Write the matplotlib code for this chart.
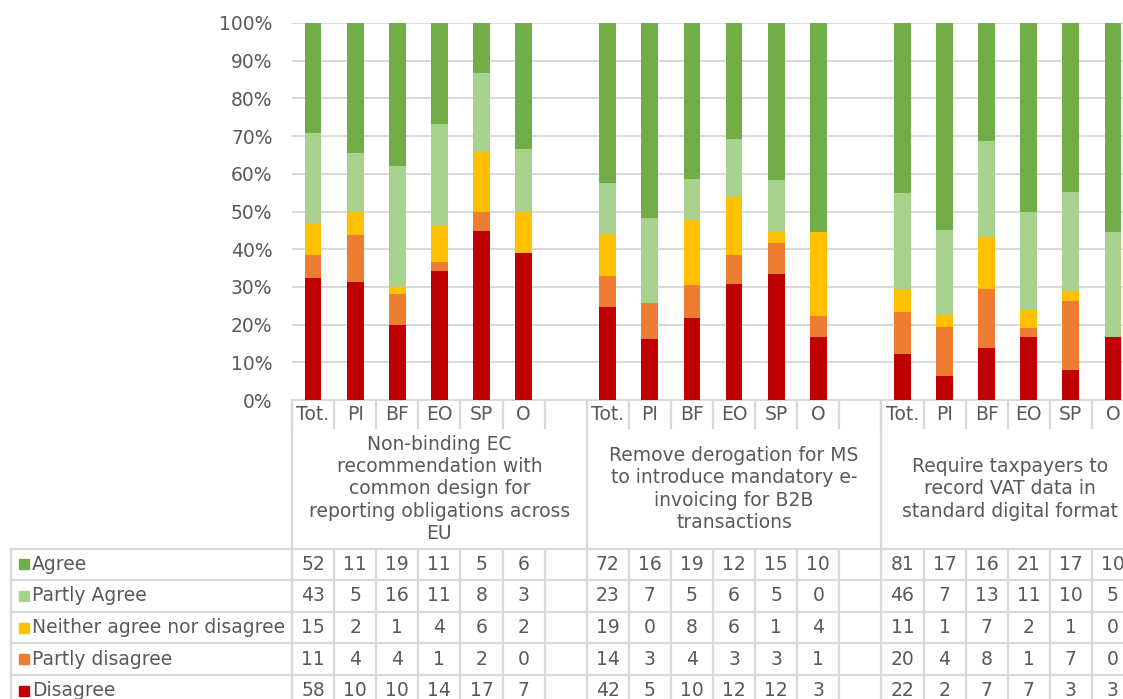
import matplotlib
matplotlib.use('Agg')
import matplotlib.pyplot as plt
from matplotlib.transforms import blended_transform_factory
from matplotlib.ticker import PercentFormatter
import numpy as np

# questions, respondent types, answers
groups = ['Non-binding EC\nrecommendation with\ncommon design for\nreporting obligations across\nEU',
          'Remove derogation for MS\nto introduce mandatory e-\ninvoicing for B2B\ntransactions',
          'Require taxpayers to\nrecord VAT data in\nstandard digital format']
cats = ['Tot.', 'PI', 'BF', 'EO', 'SP', 'O']
series = ['Agree', 'Partly Agree', 'Neither agree nor disagree', 'Partly disagree', 'Disagree']
colors = ['#70ad47', '#a9d18e', '#ffc000', '#ed7d31', '#c00000']

agree = [52, 11, 19, 11, 5, 6, 72, 16, 19, 12, 15, 10, 81, 17, 16, 21, 17, 10]
partly_agree = [43, 5, 16, 11, 8, 3, 23, 7, 5, 6, 5, 0, 46, 7, 13, 11, 10, 5]
neither = [15, 2, 1, 4, 6, 2, 19, 0, 8, 6, 1, 4, 11, 1, 7, 2, 1, 0]
partly_disagree = [11, 4, 4, 1, 2, 0, 14, 3, 4, 3, 3, 1, 20, 4, 8, 1, 7, 0]
disagree = [58, 10, 10, 14, 17, 7, 42, 5, 10, 12, 12, 3, 22, 2, 7, 7, 3, 3]

plt.rcParams['font.family'] = ['DejaVu Sans']

W, H = 1123, 699
TXT = '#595959'
GRID = '#d9d9d9'
FS = 13.5
SLOT = 42.1
NSLOT = 7 * len(groups)

fig = plt.figure(figsize=(W / 100, H / 100), dpi=100)
ax = fig.add_axes([292 / W, (H - 400) / H, NSLOT * SLOT / W, 377 / H])
tab = fig.add_axes([0, 0, 1, 1], zorder=-1)
tab.set_xlim(0, W)
tab.set_ylim(H, 0)
tab.axis('off')

# stacked 100% bars
values = [agree, partly_agree, neither, partly_disagree, disagree]
arr = np.array(values, dtype=float)
shares = arr / arr.sum(axis=0)
xpos = np.array([g * 7 + j for g in range(len(groups)) for j in range(len(cats))])
bottom = np.zeros(len(xpos))
for k in range(len(series) - 1, -1, -1):
    ax.bar(xpos, shares[k], 0.4, bottom=bottom, color=colors[k], zorder=3)
    bottom += shares[k]

ax.set_xlim(-0.5, NSLOT - 0.5)
ax.set_ylim(0, 1)
ax.set_yticks(np.arange(0, 1.01, 0.1))
ax.yaxis.set_major_formatter(PercentFormatter(1, decimals=0))
ax.tick_params(axis='y', length=0, pad=14, labelsize=FS, labelcolor=TXT)
ax.set_xticks([])
ax.yaxis.grid(True, color=GRID, lw=1.4)
for s in ax.spines.values():
    s.set_visible(False)
ax.axhline(0, color=GRID, lw=1.4, clip_on=False)

bt = blended_transform_factory(ax.transData, tab.transData)
lc = dict(color=GRID, lw=1.6)

# category row
for g in range(len(groups)):
    for j in range(7):
        i = g * 7 + j
        if j < len(cats):
            tab.text(i, 414, cats[j], transform=bt, ha='center', va='center',
                     fontsize=FS, color=TXT)
for i in range(NSLOT + 1):
    tab.plot([i - 0.5, i - 0.5], [400, 428], transform=bt, **lc)
for g in range(len(groups) + 1):
    tab.plot([g * 7 - 0.5, g * 7 - 0.5], [400, 549], transform=bt, **lc)

# question labels (last one is centred on the visible part)
gx = [3, 10, 16.55]
for g, lab in enumerate(groups):
    tab.text(gx[g], 489, lab, transform=bt, ha='center', va='center',
             fontsize=FS, color=TXT, linespacing=1.23)

# data table
ROW_TOP, ROW_H = 548.5, 31.6
for r in range(len(series) + 1):
    y = ROW_TOP + r * ROW_H
    tab.plot([11, W + 60], [y, y], **lc)
for x in [11, 292]:
    tab.plot([x, x], [ROW_TOP, H + 20], **lc)
for i in range(NSLOT + 1):
    tab.plot([i - 0.5, i - 0.5], [ROW_TOP, H + 20], transform=bt, **lc)

for r, name in enumerate(series):
    yc = ROW_TOP + (r + 0.5) * ROW_H
    tab.plot(23.5, yc, marker='s', ms=7.4, color=colors[r], ls='none')
    tab.text(32, yc, name, ha='left', va='center', fontsize=FS, color=TXT)
    for n, i in enumerate(xpos):
        tab.text(i, yc, str(values[r][n]), transform=bt, ha='center', va='center',
                 fontsize=FS, color=TXT)

fig.savefig('out.png', dpi=100)
